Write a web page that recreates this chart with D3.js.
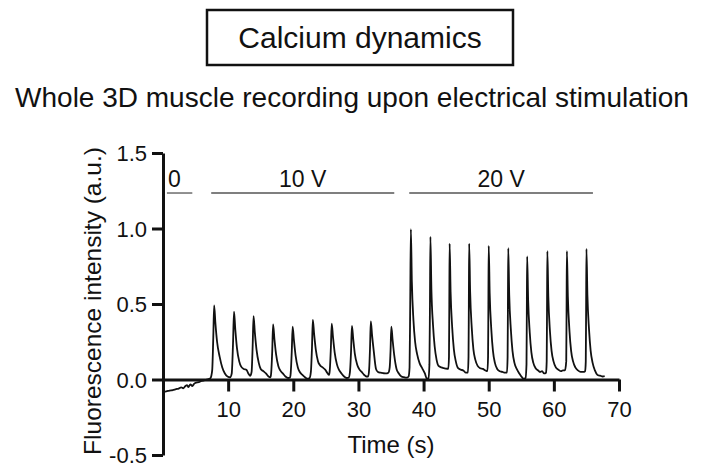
<!DOCTYPE html>
<html>
<head>
<meta charset="utf-8">
<script src="https://cdn.jsdelivr.net/npm/d3@7"></script>
<style>
  body { margin: 0; background: #fff; }
  svg { font-family: "Liberation Sans", Arial, sans-serif; }
</style>
</head>
<body>
<svg id="chart" width="704" height="465"></svg>
<script>
// ---- data ----
var xTicks = [10, 20, 30, 40, 50, 60, 70]
var yTicks = [-0.5, 0, 0.5, 1, 1.5]

// stimulation bars: label, start (s), end (s)
var stimLabels = ["0", "10 V", "20 V"]
var stimStart = [0.6, 7.4, 37.8]
var stimEnd = [4.5, 35.5, 66.0]
var stimLevel = 1.235

// [time (s), fluorescence (a.u.)]
var baselineTrace = [[0.1,-0.08],[0.5,-0.078],[1.0,-0.073],[1.5,-0.07],[2.0,-0.064],[2.4,-0.06],[2.8,-0.052],[3.1,-0.058],[3.4,-0.045],[3.7,-0.037],[3.9,-0.05],[4.2,-0.032],[4.5,-0.043],[4.8,-0.027],[5.1,-0.02],[5.5,-0.018],[5.9,-0.01],[6.3,-0.006],[6.7,0.0],[7.1,0.004]]

var trace10V = [
  [7.3,0.01],[7.55,0.06],[7.72,0.28],[7.85,0.49],[8.05,0.37],[8.3,0.25],[8.7,0.15],[9.1,0.08],[9.5,0.04],[9.9,0.02],[10.3,0.015],
  [10.55,0.04],[10.75,0.24],[10.9,0.45],[11.1,0.33],[11.35,0.21],[11.7,0.12],[12.0,0.085],[12.4,0.07],[12.8,0.065],[13.1,0.04],[13.4,0.025],
  [13.6,0.05],[13.77,0.23],[13.9,0.42],[14.1,0.31],[14.35,0.2],[14.7,0.11],[15.0,0.07],[15.4,0.055],[15.8,0.04],[16.2,0.02],[16.5,0.015],
  [16.6,0.04],[16.77,0.19],[16.9,0.365],[17.1,0.27],[17.35,0.17],[17.7,0.09],[18.0,0.06],[18.4,0.04],[18.8,0.02],[19.2,0.01],[19.5,0.012],
  [19.6,0.04],[19.77,0.19],[19.9,0.35],[20.1,0.26],[20.35,0.16],[20.7,0.08],[21.0,0.05],[21.4,0.03],[21.8,0.015],[22.2,0.005],[22.5,0.01],
  [22.7,0.05],[22.87,0.21],[23.0,0.395],[23.2,0.3],[23.45,0.2],[23.8,0.12],[24.1,0.095],[24.5,0.08],[24.9,0.065],[25.2,0.045],[25.5,0.03],
  [25.6,0.06],[25.77,0.21],[25.9,0.37],[26.1,0.28],[26.35,0.18],[26.7,0.1],[27.0,0.065],[27.4,0.04],[27.8,0.02],[28.2,0.01],[28.5,0.012],
  [28.7,0.05],[28.87,0.19],[29.0,0.355],[29.2,0.27],[29.45,0.17],[29.8,0.1],[30.1,0.07],[30.5,0.05],[30.9,0.03],[31.2,0.02],[31.5,0.02],
  [31.65,0.07],[31.78,0.21],[31.9,0.385],[32.1,0.29],[32.35,0.19],[32.7,0.07],[33.0,0.05],[33.4,0.045],[33.8,0.042],[34.2,0.04],[34.6,0.045],
  [34.8,0.08],[34.93,0.19],[35.05,0.35],[35.25,0.26],[35.5,0.16],[35.85,0.07],[36.2,0.04],[36.6,0.02],[37.0,0.015],[37.4,0.012],[37.7,0.02]
]

var trace20V = [
  [37.85,0.08],[37.95,0.5],[38.05,0.995],[38.2,0.65],[38.45,0.39],[38.7,0.25],[39.0,0.17],[39.4,0.107],[39.8,0.074],[40.2,0.04],[40.5,0.005],[40.75,0.01],
  [40.9,0.1],[40.98,0.5],[41.05,0.945],[41.2,0.6],[41.45,0.36],[41.7,0.22],[42.0,0.13],[42.3,0.09],[42.7,0.08],[43.1,0.075],[43.5,0.072],[43.8,0.07],
  [43.9,0.15],[43.95,0.5],[44.0,0.9],[44.15,0.58],[44.4,0.34],[44.65,0.2],[44.95,0.12],[45.3,0.075],[45.7,0.065],[46.1,0.06],[46.5,0.045],[46.8,0.045],
  [46.9,0.15],[46.95,0.5],[47.0,0.9],[47.15,0.58],[47.4,0.34],[47.65,0.2],[47.95,0.13],[48.3,0.09],[48.7,0.075],[49.1,0.07],[49.5,0.06],[49.8,0.055],
  [49.9,0.15],[49.95,0.5],[50.0,0.885],[50.15,0.57],[50.4,0.33],[50.65,0.19],[50.95,0.11],[51.3,0.07],[51.7,0.055],[52.1,0.05],[52.5,0.045],[52.8,0.045],
  [52.9,0.15],[52.95,0.5],[53.0,0.87],[53.15,0.56],[53.4,0.33],[53.65,0.19],[53.95,0.11],[54.3,0.07],[54.7,0.04],[55.1,0.015],[55.4,0.005],[55.65,0.01],
  [55.8,0.1],[55.85,0.45],[55.9,0.815],[56.05,0.53],[56.3,0.31],[56.55,0.18],[56.85,0.11],[57.2,0.075],[57.6,0.06],[57.9,0.05],[58.2,0.055],[58.5,0.04],[58.8,0.045],
  [58.9,0.12],[58.95,0.45],[59.0,0.85],[59.15,0.55],[59.4,0.32],[59.65,0.19],[59.95,0.12],[60.3,0.08],[60.7,0.065],[61.1,0.055],[61.4,0.06],[61.7,0.06],
  [61.9,0.12],[61.95,0.45],[62.0,0.85],[62.15,0.55],[62.4,0.32],[62.65,0.19],[62.95,0.12],[63.3,0.08],[63.7,0.06],[64.1,0.05],[64.5,0.05],[64.8,0.055],
  [64.9,0.12],[64.95,0.45],[65.0,0.865],[65.15,0.56],[65.4,0.33],[65.65,0.19],[65.95,0.11],[66.3,0.06],[66.7,0.03],[67.1,0.025],[67.5,0.02],[67.8,0.022]
]

// ---- layout ----
var svg = d3.select("#chart")
var ink = "#111"

var x = d3.scaleLinear().domain([0, 70]).range([163, 619])
var y = d3.scaleLinear().domain([-0.5, 1.5]).range([455, 153])

// title box
svg.append("rect")
  .attr("x", 207).attr("y", 10)
  .attr("width", 306).attr("height", 55)
  .attr("fill", "none")
  .attr("stroke", ink)
  .attr("stroke-width", 2.5)

svg.append("text")
  .attr("x", 360).attr("y", 48)
  .attr("text-anchor", "middle")
  .style("font-size", "30px")
  .style("fill", ink)
  .text("Calcium dynamics")

svg.append("text")
  .attr("x", 352).attr("y", 107)
  .attr("text-anchor", "middle")
  .style("font-size", "28px")
  .style("fill", ink)
  .text("Whole 3D muscle recording upon electrical stimulation")

// trace
var line = d3.line()
  .x(function(d){ return x(d[0]) })
  .y(function(d){ return y(d[1]) })
  .curve(d3.curveMonotoneX)

var trace = baselineTrace.concat(trace10V, trace20V)

svg.append("path")
  .datum(trace)
  .attr("d", line)
  .attr("fill", "none")
  .attr("stroke", ink)
  .attr("stroke-width", 1.8)
  .attr("stroke-linejoin", "round")

// axes
var xAxis = svg.append("g")
  .attr("transform", "translate(0," + y(0) + ")")
  .call(d3.axisBottom(x)
    .tickValues(xTicks)
    .tickSize(12)
    .tickSizeOuter(0)
    .tickPadding(10))

var yAxis = svg.append("g")
  .attr("transform", "translate(" + x(0) + ",0)")
  .call(d3.axisLeft(y)
    .tickValues(yTicks)
    .tickSize(11)
    .tickSizeOuter(0)
    .tickPadding(5)
    .tickFormat(function(d){ return d.toFixed(1) }))

svg.selectAll(".domain, .tick line")
  .attr("stroke", ink)
  .attr("stroke-width", 3)
svg.selectAll(".tick text")
  .style("font-size", "22px")
  .style("font-family", "'Liberation Sans', Arial, sans-serif")
  .style("fill", ink)
yAxis.selectAll(".tick text").attr("dy", "0.36em")

// axis titles
svg.append("text")
  .attr("x", 391).attr("y", 453)
  .attr("text-anchor", "middle")
  .style("font-size", "24px")
  .style("fill", ink)
  .text("Time (s)")

svg.append("text")
  .attr("transform", "translate(101,301) rotate(-90)")
  .attr("text-anchor", "middle")
  .style("font-size", "24.5px")
  .style("fill", ink)
  .text("Fluorescence intensity (a.u.)")

// stimulation bars
svg.selectAll("stimbars")
  .data(stimLabels)
  .enter()
  .append("line")
    .attr("x1", function(d,i){ return x(stimStart[i]) })
    .attr("x2", function(d,i){ return x(stimEnd[i]) })
    .attr("y1", y(stimLevel))
    .attr("y2", y(stimLevel))
    .attr("stroke", "#555")
    .attr("stroke-width", 1.3)

svg.selectAll("stimlabels")
  .data(stimLabels)
  .enter()
  .append("text")
    .attr("x", function(d,i){ return i == 0 ? x(stimStart[i]) + 1 : (x(stimStart[i]) + x(stimEnd[i])) / 2 })
    .attr("y", y(stimLevel) - 6)
    .attr("text-anchor", function(d,i){ return i == 0 ? "start" : "middle" })
    .style("font-size", "23px")
    .style("fill", ink)
    .text(function(d){ return d })
</script>
</body>
</html>
